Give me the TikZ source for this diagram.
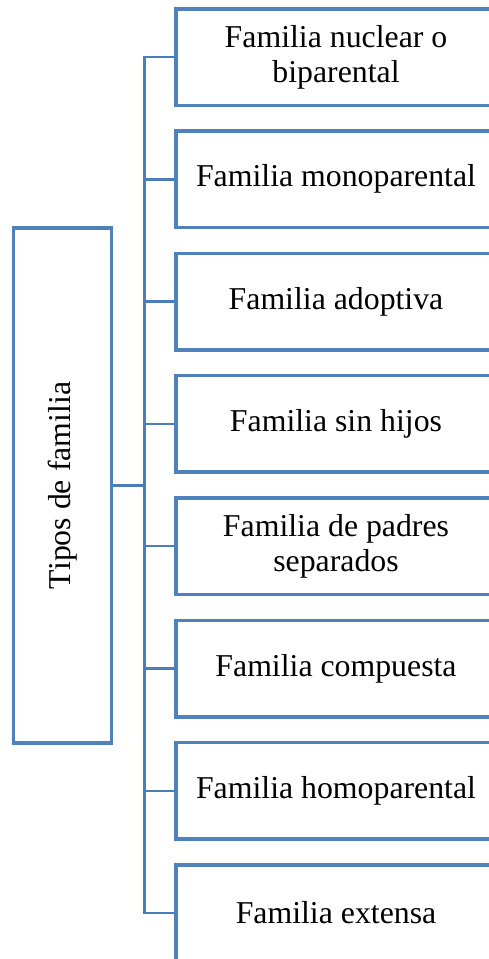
\documentclass[tikz,border=0pt]{standalone}
\usepackage{fontspec}
\setmainfont{Liberation Serif}
\definecolor{boxblue}{RGB}{79,129,189}
\definecolor{lineblue}{RGB}{74,126,187}
\begin{document}
\begin{tikzpicture}[x=1pt,y=-1pt,
  famtxt/.style={font=\fontsize{31.8}{35}\selectfont, align=center},
  itembox/.style={draw=boxblue, line width=3.5pt, rectangle, minimum width=320pt, minimum height=96.5pt, inner sep=0pt, famtxt},
  mainbox/.style={draw=boxblue, line width=3.5pt, rectangle, minimum width=98pt, minimum height=515pt, inner sep=0pt},
  conn/.style={draw=lineblue, line width=2.5pt}]
\useasboundingbox (0,0) rectangle (488,959);
\node[mainbox] (main) at (62.5,485.5) {};
\node[famtxt, rotate=90] (maintxt) at (62.5,485.5) {Tipos de familia};
\node[itembox] (b1) at (336,57) {Familia nuclear o\\biparental};
\node[itembox] (b2) at (336,179.3) {Familia monoparental};
\node[itembox] (b3) at (336,301.6) {Familia adoptiva};
\node[itembox] (b4) at (336,423.9) {Familia sin hijos};
\node[itembox] (b5) at (336,546.2) {Familia de padres\\separados};
\node[itembox] (b6) at (336,668.5) {Familia compuesta};
\node[itembox] (b7) at (336,790.8) {Familia homoparental};
\node[itembox] (b8) at (336,913.1) {Familia extensa};
\coordinate (t) at (144.5,0);
\draw[conn] (b1.west) -- (b1.west -| t) -- (b8.west -| t) -- (b8.west);
\foreach \k in {2,...,7}{\draw[conn] (b\k.west) -- (b\k.west -| t);}
\draw[conn] (main.east) -- (main.east -| t);
\end{tikzpicture}
\end{document}
